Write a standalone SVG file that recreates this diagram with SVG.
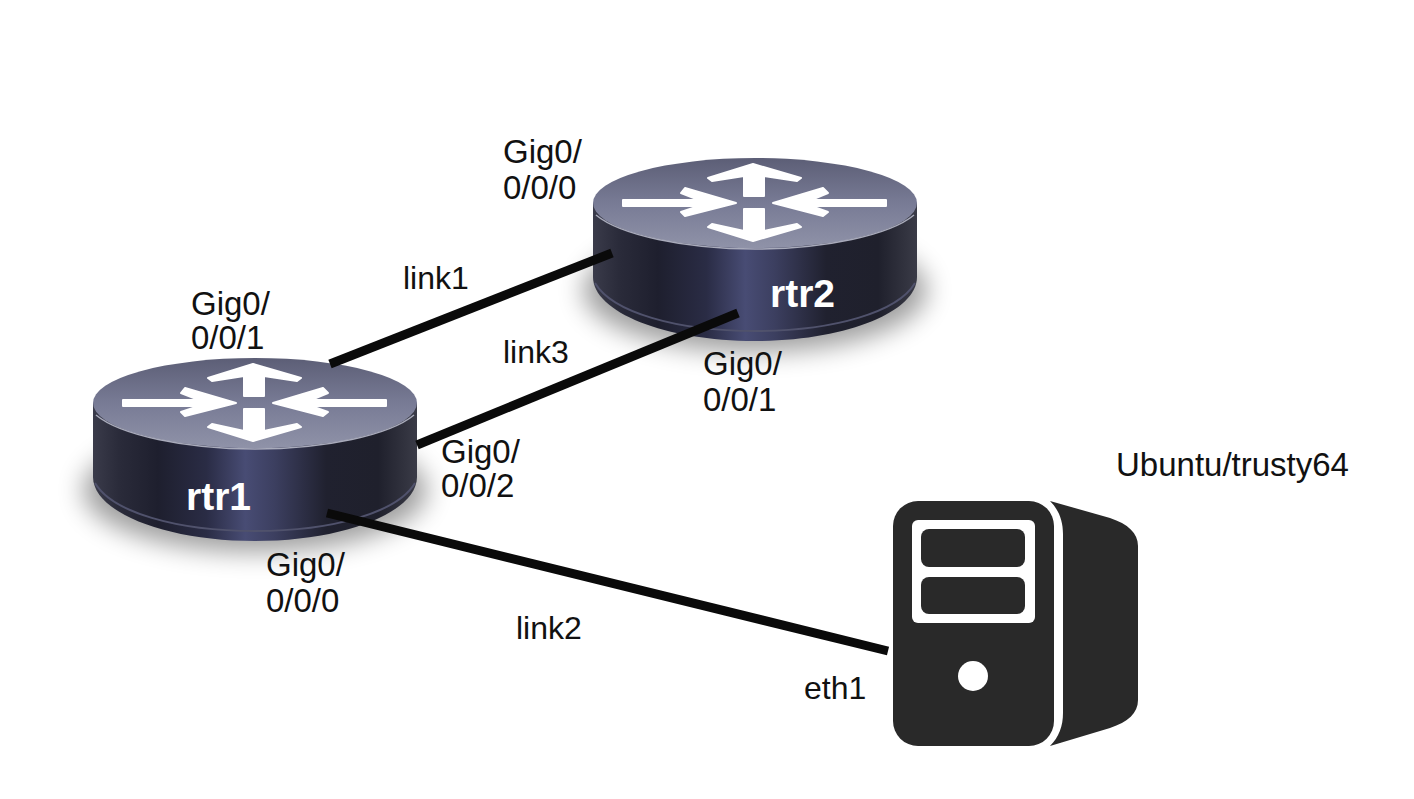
<svg xmlns="http://www.w3.org/2000/svg" width="1414" height="799" viewBox="0 0 1414 799">
<style>
text{font-family:"Liberation Sans",Arial,sans-serif;font-size:33px;fill:#111}
.short{font-size:32px}
.name{font-weight:bold;font-size:39px;fill:#fff}
.link{stroke:#0a0a0a;stroke-width:9;fill:none}
.srv{fill:#292929}
</style>
<defs>
<linearGradient id="side" x1="0" x2="1" y1="0" y2="0">
<stop offset="0" stop-color="#3a3b4a"/><stop offset=".08" stop-color="#2a2b3a"/><stop offset=".2" stop-color="#1e1f2e"/><stop offset=".35" stop-color="#2a2c45"/><stop offset=".47" stop-color="#484c74"/><stop offset=".56" stop-color="#3c3f60"/><stop offset=".72" stop-color="#20212f"/><stop offset=".88" stop-color="#1f202c"/><stop offset="1" stop-color="#3a3b47"/>
</linearGradient>
<linearGradient id="top" x1="0" x2="0" y1="0" y2="1">
<stop offset="0" stop-color="#5c5e76"/><stop offset=".5" stop-color="#787b95"/><stop offset="1" stop-color="#8f92a8"/>
</linearGradient>
<filter id="blur" x="-25%" y="-40%" width="150%" height="180%"><feGaussianBlur stdDeviation="13"/></filter>
<g id="router">
<ellipse cx="255" cy="490" rx="172" ry="62" fill="#000" opacity=".38" filter="url(#blur)"/>
<path d="M93 403V477C93 512 165 541 255 541S417 512 417 477V403Z" fill="url(#side)"/>
<path d="M95 483C112 512 176 531 255 531S398 512 415 483" fill="none" stroke="#50526c" stroke-width="2"/>
<ellipse cx="255" cy="403" rx="162" ry="45" fill="url(#top)"/>
<path d="M96 415C120 435 185 449 255 449S390 435 414 415" fill="none" stroke="#a9abbb" stroke-width="1.5"/>
<g fill="#fff" stroke="#fff" stroke-width="2" stroke-linejoin="round">
<path d="M253 364L301 378L297 381L264 376V396H244V376L212 381L208 378Z"/>
<path d="M244 409H264V431L297 424L301 427L253 441L208 427L212 424L244 431Z"/>
<path d="M123 400H199L181 393L185 388L236 403L185 416L181 412L199 406H123Z"/>
<path d="M386 400H311L328 393L323 388L273 403L323 416L328 412L311 406H386Z"/>
</g>
</g>
</defs>
<rect width="1414" height="799" fill="#fff"/>
<g id="rtr2" transform="translate(500 -200)"><use href="#router"/></g>
<g id="rtr1"><use href="#router"/></g>
<g id="connectors">
<path class="link" d="M330 364L612 253"/>
<path class="link" d="M417 445L738 313"/>
<path class="link" d="M327 513L888 651"/>
</g>
<g id="rtr1-label"><text class="name" x="186" y="510">rtr1</text></g>
<g id="rtr2-label"><text class="name" x="770" y="307">rtr2</text></g>
<g id="server">
<rect class="srv" x="893" y="501" width="161" height="245" rx="25"/>
<rect x="912" y="520" width="123" height="103" rx="6" fill="#fff"/>
<rect class="srv" x="921" y="529" width="104" height="38" rx="8"/>
<rect class="srv" x="921" y="577" width="104" height="37" rx="8"/>
<circle cx="973" cy="676" r="15" fill="#fff"/>
<path class="srv" d="M1050 501L1110 518C1128 524 1138 533 1138 546V700C1138 713 1128 722 1110 728L1050 746C1059 737 1063 726 1063 713V534C1063 521 1059 510 1050 501Z"/>
</g>
<g id="labels">
<text x="503" y="163">Gig0/</text><text x="503" y="199">0/0/0</text>
<text x="191" y="315">Gig0/</text><text x="191" y="349">0/0/1</text>
<text x="703" y="375">Gig0/</text><text x="703" y="411">0/0/1</text>
<text x="441" y="463">Gig0/</text><text x="441" y="497">0/0/2</text>
<text x="266" y="576">Gig0/</text><text x="266" y="612">0/0/0</text>
<text class="short" x="403" y="289">link1</text>
<text class="short" x="503" y="363">link3</text>
<text class="short" x="516" y="639">link2</text>
<text class="short" x="804" y="699">eth1</text>
<text x="1116" y="476">Ubuntu/trusty64</text>
</g>
</svg>
